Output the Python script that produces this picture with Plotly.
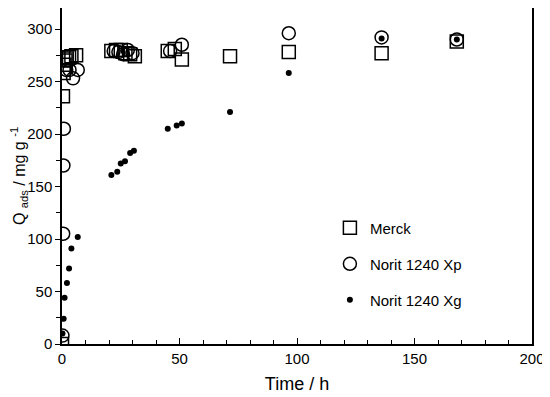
import plotly.graph_objects as go

# Merck
merck_t = [0, 0.4, 0.7, 1, 1.5, 2, 3, 4, 6, 21, 23, 25, 27, 29, 31, 45, 48, 51, 71.5, 96.5, 136, 168]
merck_q = [0, 236, 258, 266, 270, 272, 273, 274, 275, 279, 280, 280, 277, 276, 274, 279, 281, 271, 274, 278, 277, 288]

# Norit 1240 Xp
xp_t = [0.2, 0.5, 0.6, 0.8, 1.8, 3.2, 4.7, 6.7, 22, 24, 26, 28, 30, 46, 51, 96.5, 136, 168]
xp_q = [8, 105, 170, 205, 261, 261, 253, 261, 279, 278, 276, 280, 277, 279, 285, 296, 292, 290]

# Norit 1240 Xg
xg_t = [0.2, 0.7, 1.1, 2.1, 3, 4, 6.7, 21, 23.5, 25, 26.8, 29, 30.6, 45, 48.8, 51, 71.5, 96.5, 136, 168]
xg_q = [10, 24, 44, 58, 72, 91, 102, 161, 164, 172, 174, 182, 184, 205, 208, 210, 221, 258, 291, 290]

FONT = "Liberation Sans, Arial, sans-serif"
FS = 15

fig = go.Figure()
fig.add_trace(go.Scatter(x=merck_t, y=merck_q, mode="markers", name="Merck", legend="legend",
                         marker=dict(symbol="square-open", size=13, color="black", line=dict(width=1.5))))
fig.add_trace(go.Scatter(x=xp_t, y=xp_q, mode="markers", name="Norit 1240 Xp", legend="legend2",
                         marker=dict(symbol="circle-open", size=13, color="black", line=dict(width=1.5))))
fig.add_trace(go.Scatter(x=xg_t, y=xg_q, mode="markers", name="Norit 1240 Xg", legend="legend3",
                         marker=dict(symbol="circle", size=6, color="black")))

leg_common = dict(x=0.57, xanchor="left", yanchor="middle", bgcolor="rgba(0,0,0,0)",
                  font=dict(size=FS), itemsizing="trace")

fig.update_layout(
    width=542, height=389,
    margin=dict(l=54, r=18, t=0, b=53),
    paper_bgcolor="white", plot_bgcolor="white",
    font=dict(family=FONT, size=FS, color="black"),
    showlegend=True,
    legend=dict(y=0.345, **leg_common),
    legend2=dict(y=0.238, **leg_common),
    legend3=dict(y=0.131, **leg_common),
    xaxis=dict(range=[0, 200], dtick=50, showline=True, linecolor="black", linewidth=1.5,
               mirror=True, ticks="inside", ticklen=6, tickcolor="black", showgrid=False,
               zeroline=False, automargin=False,
               minor=dict(dtick=10, ticks="inside", ticklen=4, tickcolor="black"),
               title=dict(text="Time / h", standoff=12)),
    yaxis=dict(range=[0, 320], tick0=0, dtick=50, showline=True, linecolor="black", linewidth=1.5,
               mirror=True, ticks="outside", ticklen=5, tickcolor="black", showgrid=False,
               zeroline=False, automargin=False,
               minor=dict(dtick=25, ticks="outside", ticklen=4, tickcolor="black"),
               title=dict(text="Q <sub>ads</sub> / mg g <sup>-1</sup>", standoff=11, font=dict(size=16))),
)

fig.write_html("out.html")
